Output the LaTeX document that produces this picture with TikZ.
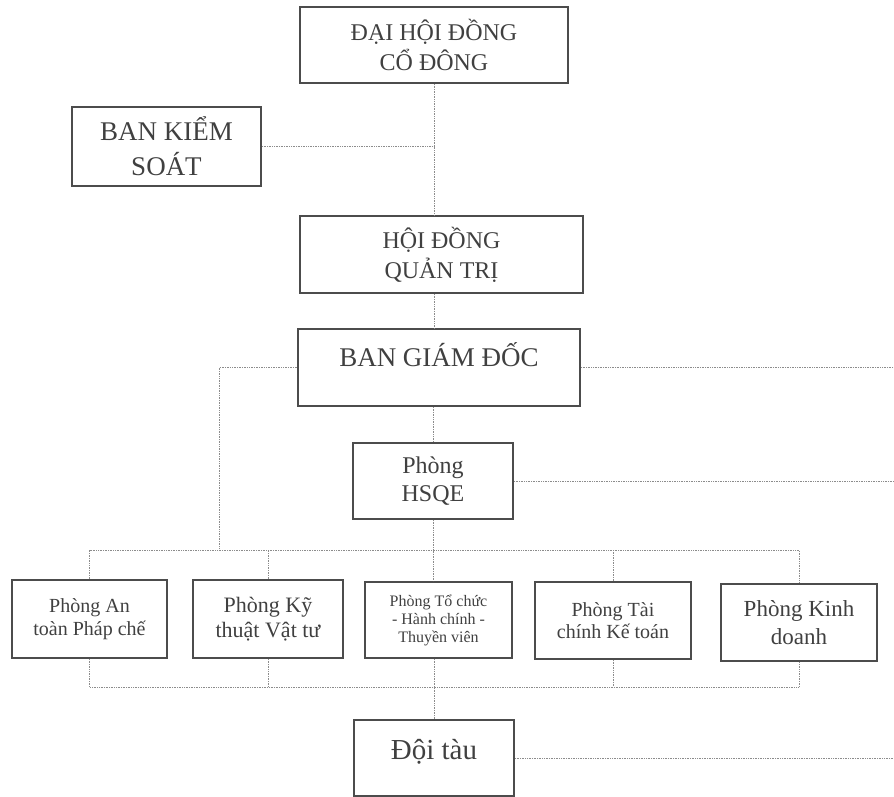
\documentclass[tikz,border=0pt]{standalone}
\usepackage{fontspec}
\setmainfont{Liberation Serif}
\usetikzlibrary{positioning}
\tikzset{
    box/.style={draw=black!70, line width=1.8pt, text=black!75, align=center, inner sep=0pt},
    link/.style={densely dotted, black!45, line width=0.7pt}
}
\begin{document}
\begin{tikzpicture}[x=1pt,y=-1pt]
        \useasboundingbox (0,0) rectangle (894,797);
        \coordinate (edge) at (894,0); % right border of the page

        % upper boxes
        \node[box, minimum width=268, minimum height=76, font=\fontsize{24}{30}\selectfont] (dhdcd) at (434,45) {ĐẠI HỘI ĐỒNG\\CỔ ĐÔNG};
        \node[box, minimum width=189, minimum height=79, font=\fontsize{27}{35}\selectfont] (bks) at (166.5,146.5) {BAN KIỂM\\SOÁT};
        \node[box, minimum width=283, minimum height=77, font=\fontsize{24}{30}\selectfont] (hdqt) at (441.5,254.5) {HỘI ĐỒNG\\QUẢN TRỊ};
        \node[box, minimum width=282, minimum height=77, text height=24pt, text depth=26pt, font=\fontsize{27}{32}\selectfont] (bgd) at (439,367.5) {BAN GIÁM ĐỐC};
        \node[box, minimum width=160, minimum height=76, font=\fontsize{24}{28}\selectfont] (hsqe) at (433,481) {Phòng\\HSQE};

        % row of departments
        \node[box, minimum width=155, minimum height=78, font=\fontsize{20}{23}\selectfont] (antoan) at (89.5,619) {Phòng An\\toàn Pháp chế};
        \node[box, minimum width=150, minimum height=78, font=\fontsize{22}{25}\selectfont] (kythuat) at (268,619) {Phòng Kỹ\\thuật Vật tư};
        \node[box, minimum width=147, minimum height=76, font=\fontsize{16}{18}\selectfont] (tochuc) at (438.5,620) {Phòng Tổ chức\\- Hành chính -\\Thuyền viên};
        \node[box, minimum width=156, minimum height=77, font=\fontsize{20}{22}\selectfont] (taichinh) at (613,620.5) {Phòng Tài\\chính Kế toán};
        \node[box, minimum width=156, minimum height=77, font=\fontsize{23}{28}\selectfont] (kinhdoanh) at (799,622.5) {Phòng Kinh\\doanh};

        \node[box, minimum width=160, minimum height=76, text height=26pt, text depth=23pt, font=\fontsize{29}{34}\selectfont] (doitau) at (434,758) {Đội tàu};

        % trunk from the top
        \draw[link] (dhdcd.south) -- (dhdcd.south |- hdqt.north);
        \draw[link] (bks.east) -- (bks.east -| dhdcd.south);
        \draw[link] (dhdcd.south |- hdqt.south) -- (dhdcd.south |- bgd.north);
        \draw[link] (hsqe.north |- bgd.south) -- (hsqe.north);

        % lines leaving on the right
        \draw[link] (bgd.east) -- (bgd.east -| edge);
        \draw[link] (hsqe.east) -- (hsqe.east -| edge);
        \draw[link] (doitau.east) -- (doitau.east -| edge);

        % upper bus
        \coordinate (busup) at (0,550);
        \draw[link] (bgd.west) -| (219,550);
        \draw[link] (hsqe.south) -- (tochuc.north -| hsqe.south);
        \draw[link] (antoan.north) |- (busup -| kinhdoanh.north) -- (kinhdoanh.north);
        \draw[link] (kythuat.north) -- (kythuat.north |- busup);
        \draw[link] (taichinh.north) -- (taichinh.north |- busup);

        % lower bus
        \coordinate (buslow) at (0,687);
        \draw[link] (antoan.south) |- (buslow -| kinhdoanh.south) -- (kinhdoanh.south);
        \draw[link] (kythuat.south) -- (kythuat.south |- buslow);
        \draw[link] (taichinh.south) -- (taichinh.south |- buslow);
        \draw[link] (doitau.north |- tochuc.south) -- (doitau.north);
    \end{tikzpicture}
\end{document}
